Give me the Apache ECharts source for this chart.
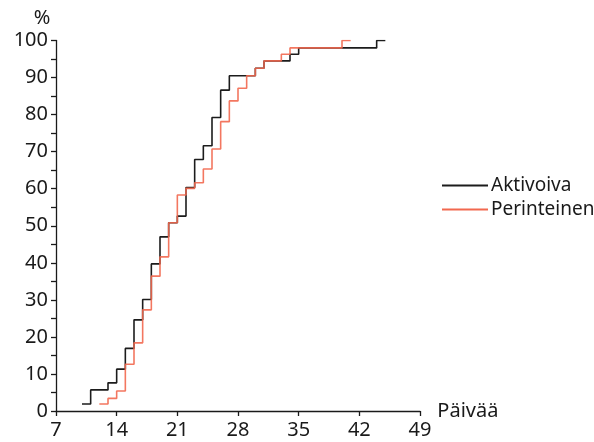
<!DOCTYPE html>
<html>
<head>
<meta charset="utf-8">
<script src="https://cdn.jsdelivr.net/npm/echarts@6/dist/echarts.min.js"></script>
<style>
  html, body { margin: 0; padding: 0; background: #fff; }
  #main { width: 594px; height: 442px; }
</style>
</head>
<body>
<div id="main"></div>
<script>
// paiva (day) at which the cumulative share steps up, and the share (%) after the step
var aktivoivaDays = [10, 11, 13, 14, 15, 16, 17, 18, 19, 20, 21, 22, 23, 24, 25, 26, 27, 30, 31, 34, 35, 44, 45]
var aktivoivaPct = [1.9, 5.7, 7.6, 11.3, 16.9, 24.6, 30.1, 39.7, 47.0, 50.8, 52.6, 60.3, 67.9, 71.6, 79.2, 86.6, 90.5, 92.5, 94.5, 96.3, 98.0, 100, 100]

var perinteinenDays = [12, 13, 14, 15, 16, 17, 18, 19, 20, 21, 22, 23, 24, 25, 26, 27, 28, 29, 30, 31, 33, 34, 40, 41]
var perinteinenPct = [1.9, 3.4, 5.4, 12.6, 18.4, 27.3, 36.4, 41.6, 50.8, 58.3, 60.1, 61.6, 65.3, 70.7, 78.1, 83.7, 87.1, 90.5, 92.5, 94.5, 96.3, 98.0, 100, 100]

var seriesNames = ['Aktivoiva', 'Perinteinen']
var colors = ['#1c1c1c', '#f2684f']

var pairs = function (xs, ys) {
    var out = []
    for (var i = 0; i < xs.length; i++) {
        out.push([xs[i], ys[i]])
    }
    return out
}

var txt = '#1a1a1a'
var font = '"Noto Sans", sans-serif'

var myChart = echarts.init(document.getElementById('main'))
myChart.setOption({
    animation: false,
    color: colors,
    grid: { left: 56, right: 174, top: 40.5, bottom: 31, containLabel: false },
    legend: {
        orient: 'vertical',
        left: 437,
        top: 171,
        itemWidth: 46,
        itemHeight: 2,
        itemGap: 5,
        icon: 'rect',
        data: seriesNames,
        textStyle: { color: txt, fontSize: 19, fontFamily: font, padding: [0, 0, 0, -2] }
    },
    xAxis: {
        type: 'value',
        min: 7,
        max: 49,
        interval: 7,
        name: 'Päivää',
        nameLocation: 'end',
        nameGap: 3,
        nameTextStyle: { color: txt, fontSize: 20, fontFamily: font, padding: [0, 0, 0, -10] },
        axisLine: { lineStyle: { color: txt, width: 1.3 } },
        axisTick: { show: true, length: 5, lineStyle: { color: txt, width: 1.3 } },
        axisLabel: { color: txt, fontSize: 20, fontFamily: font, margin: 9 },
        splitLine: { show: false }
    },
    yAxis: {
        type: 'value',
        min: 0,
        max: 100,
        interval: 10,
        name: '%',
        nameLocation: 'end',
        nameGap: 12,
        nameTextStyle: { color: txt, fontSize: 20, fontFamily: font, padding: [0, 28, 0, 0] },
        axisLine: { show: true, lineStyle: { color: txt, width: 1.3 } },
        axisTick: { show: true, length: 5, lineStyle: { color: txt, width: 1.3 } },
        minorTick: { show: true, splitNumber: 2, length: 5, lineStyle: { color: txt, width: 1.3 } },
        axisLabel: { color: txt, fontSize: 20, fontFamily: font, margin: 8 },
        splitLine: { show: false }
    },
    series: [
        {
            name: seriesNames[0],
            type: 'line',
            step: 'end',
            showSymbol: false,
            symbol: 'none',
            lineStyle: { width: 1.6, color: colors[0] },
            data: pairs(aktivoivaDays, aktivoivaPct)
        },
        {
            name: seriesNames[1],
            type: 'line',
            step: 'end',
            showSymbol: false,
            symbol: 'none',
            lineStyle: { width: 1.6, color: colors[1], opacity: 0.9 },
            data: pairs(perinteinenDays, perinteinenPct)
        }
    ]
})
</script>
</body>
</html>
